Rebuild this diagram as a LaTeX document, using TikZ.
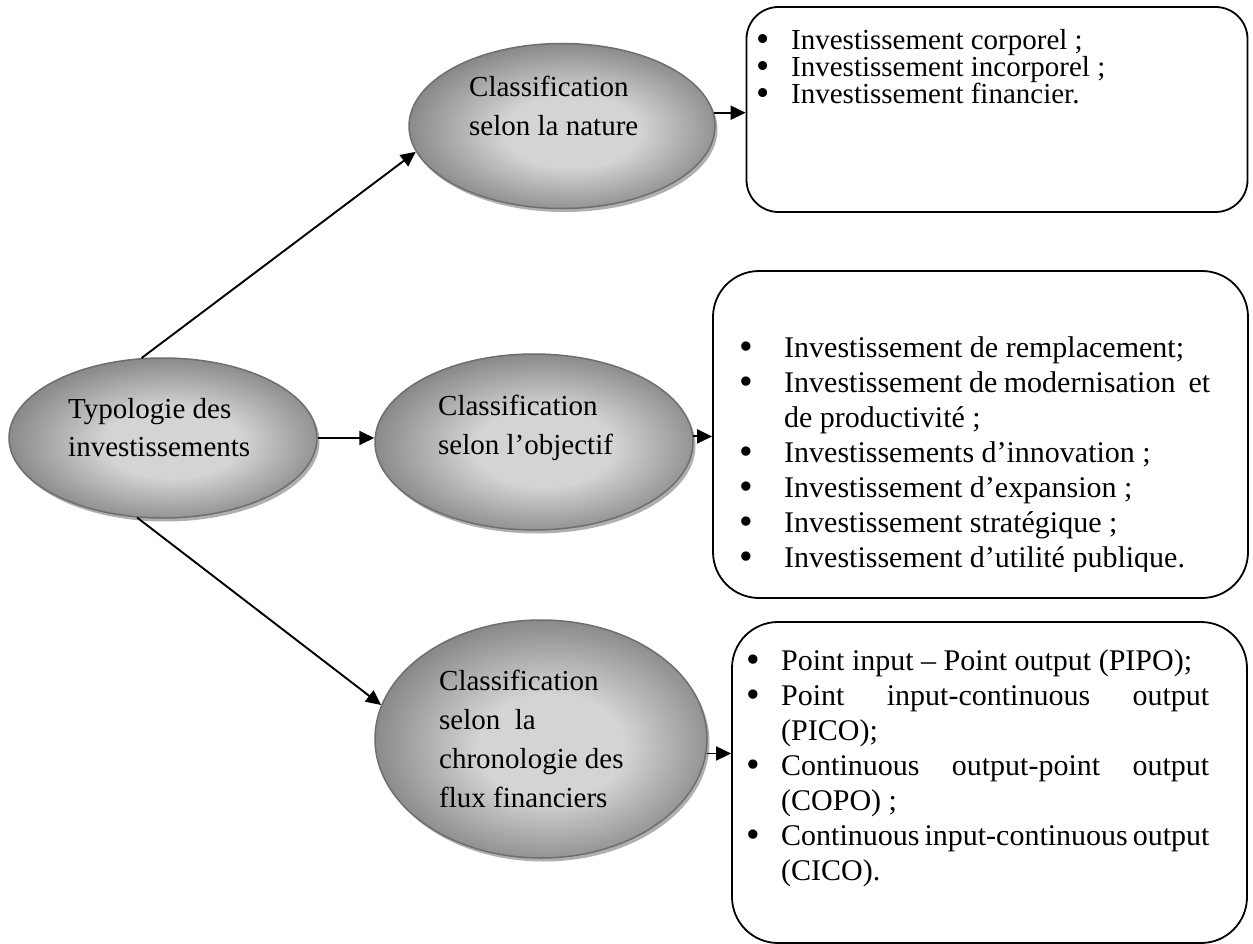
\documentclass[tikz,border=0pt]{standalone}
\usepackage{fontspec}
\usepackage{graphicx}
\setmainfont{Liberation Serif}
\usetikzlibrary{arrows.meta,shapes.geometric,shadows}

\definecolor{elllight}{RGB}{212,212,212}
\definecolor{elldark}{RGB}{128,128,128}
\definecolor{ellrim}{RGB}{110,110,110}
\definecolor{shadowgray}{RGB}{175,175,175}
\pgfdeclareradialshading{ellshade}{\pgfpoint{2bp}{-2bp}}{%
  color(0bp)=(elllight); color(11bp)=(elllight);
  color(28bp)=(elldark); color(50bp)=(elldark)}

\newlength\bulind
\newcommand\bitem{\makebox[\bulind][l]{\raisebox{-0.07em}{\scalebox{1.3}{\textbullet}}}}
\newcommand\bcont{\hspace*{\bulind}}
\newcommand\firstline{\rule{0pt}{24pt}}

\tikzset{
  bubble/.style={ellipse, draw=ellrim, line width=1.5pt, shading=ellshade,
    inner sep=0pt,
    drop shadow={shadow xshift=2.5pt, shadow yshift=-3.5pt, fill=shadowgray, opacity=1}},
  bubbletext/.style={anchor=north west, inner sep=0pt, align=left,
    font=\fontsize{29}{#1}\selectfont},
  bubbletext/.default=39,
  listbox/.style={draw=black, line width=1.8pt, inner sep=0pt},
  listtext/.style n args={3}{anchor=north west, inner sep=0pt, align=left,
    font={\fontsize{#3}{#1}\selectfont\setlength\bulind{#2}}},
  link/.style={line width=1.9pt, -{Triangle[length=15pt,width=14pt]}},
}

\begin{document}
\begin{tikzpicture}[x=1pt, y=-1pt]
  \useasboundingbox (0,0) rectangle (1253,944);

  % the four classification bubbles
  \node[bubble, minimum width=308pt, minimum height=160pt] (e1) at (163,438) {};
  \node[bubble, minimum width=306pt, minimum height=165pt] (e2) at (562,126) {};
  \node[bubble, minimum width=318pt, minimum height=176pt] (e3) at (534,442) {};
  \node[bubble, minimum width=332pt, minimum height=238pt] (e4) at (541,739) {};

  \node[bubbletext=38] (t1) at (68,394)
    {\firstline Typologie des\\investissements};
  \node[bubbletext] (t2) at (469,72) {\firstline Classification\\selon la nature};
  \node[bubbletext] (t3) at (438,391) {\firstline Classification\\selon l’objectif};
  \node[bubbletext] (t4) at (439,666)
    {\firstline Classification\\selon\ \ la\\chronologie des\\flux financiers};

  % the three lists
  \node[listbox, rounded corners=32pt, minimum width=501pt, minimum height=205pt]
    (b1) at (997,109.5) {};
  \node[listbox, rounded corners=46pt, minimum width=535pt, minimum height=327pt]
    (b2) at (980.5,434.5) {};
  \node[listbox, rounded corners=46pt, minimum width=515pt, minimum height=321pt]
    (b3) at (989.5,782.5) {};

  \node[listtext={27}{35pt}{29}] (l1) at (756,25) {%
    \firstline\bitem Investissement corporel ;\\
    \bitem Investissement incorporel ;\\
    \bitem Investissement financier.};

  \begin{scope}
    \clip (714,272) rectangle (1247,571);
    \node[listtext={35}{45pt}{30}] (l2) at (739,333) {%
      \firstline\bitem Investissement de remplacement;\\
      \bitem\makebox[426pt][s]{Investissement de modernisation\ \ et}\\
      \bcont de productivité ;\\
      \bitem Investissements d’innovation ;\\
      \bitem Investissement d’expansion ;\\
      \bitem Investissement stratégique ;\\
      \bitem Investissement d’utilité publique.};
  \end{scope}

  \node[listtext={35}{35pt}{30}] (l3) at (746,646) {%
    \firstline\bitem Point input – Point output (PIPO);\\
    \bitem\makebox[428pt][s]{Point input-continuous output}\\
    \bcont (PICO);\\
    \bitem\makebox[428pt][s]{Continuous output-point output}\\
    \bcont (COPO) ;\\
    \bitem\makebox[428pt][s]{Continuous input-continuous output}\\
    \bcont (CICO).};

  % connectors
  \draw[link] (e1.105) -- (e2.190);
  \draw[link] (e1.east) -- (e1.east -| e3.west);
  \draw[link] (e1.252) -- (e4.168);
  \draw[link] (e2.5) -- (e2.5 -| b1.west);
  \draw[link] (e3.2.5) -- (e3.2.5 -| b2.west);
  \draw[link] (e4.-5) -- (e4.-5 -| b3.west);
\end{tikzpicture}
\end{document}
